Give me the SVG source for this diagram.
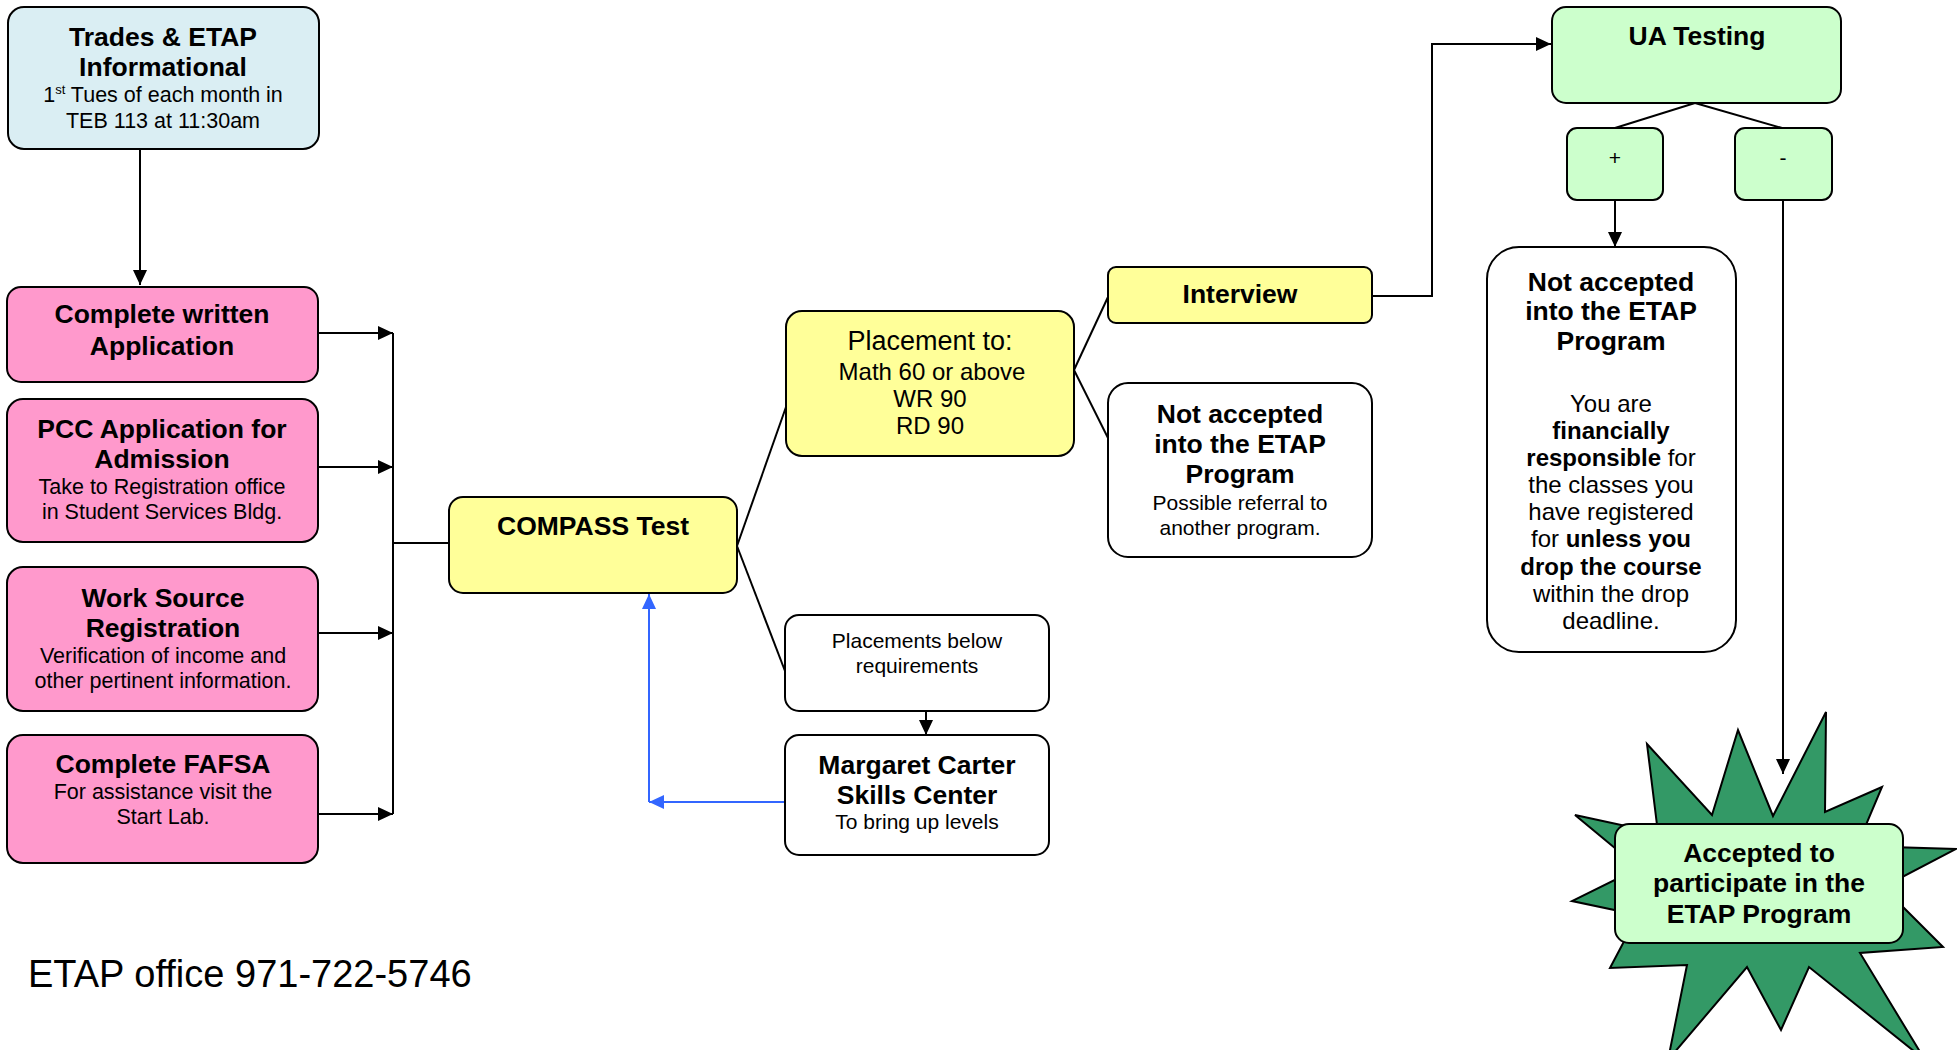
<svg xmlns="http://www.w3.org/2000/svg" width="1957" height="1050" viewBox="0 0 1957 1050">
<defs>
<marker id="arr" markerUnits="userSpaceOnUse" markerWidth="16" markerHeight="14" refX="15" refY="7" orient="auto"><path d="M0,0 L15,7 L0,14 z" fill="#000"/></marker>
<marker id="arrb" markerUnits="userSpaceOnUse" markerWidth="16" markerHeight="14" refX="15" refY="7" orient="auto"><path d="M0,0 L15,7 L0,14 z" fill="#3366FF"/></marker>
<style>
text{font-family:"Liberation Sans",Arial,sans-serif;fill:#000;text-anchor:middle}
.box{stroke:#000;stroke-width:2}
.blue{fill:#DAEEF3}.pink{fill:#FF99CC}.yel{fill:#FFFF99}.grn{fill:#CCFFCC}.wht{fill:#FFFFFF}
.h{font-weight:bold;font-size:26.5px}
.s{font-size:21.5px}
.m{font-size:21px}
.c{stroke:#000;stroke-width:2;fill:none}
.cb{stroke:#3366FF;stroke-width:2;fill:none}
</style>
</defs>
<rect width="1957" height="1050" fill="#fff"/>

<g id="connectors">
<line class="c" x1="140" y1="149" x2="140" y2="285" marker-end="url(#arr)"/>
<line class="c" x1="318" y1="333" x2="393" y2="333" marker-end="url(#arr)"/>
<line class="c" x1="318" y1="467" x2="393" y2="467" marker-end="url(#arr)"/>
<line class="c" x1="318" y1="633" x2="393" y2="633" marker-end="url(#arr)"/>
<line class="c" x1="316" y1="814" x2="393" y2="814" marker-end="url(#arr)"/>
<line class="c" x1="393" y1="333" x2="393" y2="814"/>
<line class="c" x1="393" y1="543" x2="449" y2="543"/>
<line class="c" x1="737" y1="546" x2="786" y2="407"/>
<line class="c" x1="737" y1="546" x2="785" y2="671"/>
<line class="c" x1="926" y1="711" x2="926" y2="735" marker-end="url(#arr)"/>
<line class="cb" x1="785" y1="802" x2="649" y2="802" marker-end="url(#arrb)"/>
<line class="cb" x1="649" y1="802" x2="649" y2="594" marker-end="url(#arrb)"/>
<line class="c" x1="1074" y1="370" x2="1108" y2="297"/>
<line class="c" x1="1074" y1="370" x2="1108" y2="438"/>
<polyline class="c" points="1372,296 1432,296 1432,44 1551,44" marker-end="url(#arr)"/>
<line class="c" x1="1695" y1="103" x2="1615" y2="128"/>
<line class="c" x1="1695" y1="103" x2="1782" y2="128"/>
<line class="c" x1="1615" y1="200" x2="1615" y2="247" marker-end="url(#arr)"/>
<line class="c" x1="1783" y1="200" x2="1783" y2="774" marker-end="url(#arr)"/>
</g>

<g id="trades">
<rect class="box blue" x="8" y="7" width="311" height="142" rx="16"/>
<text x="163" y="46" class="h">Trades &amp; ETAP</text>
<text x="163" y="76" class="h">Informational</text>
<text x="163" y="102" font-size="21.5">1<tspan font-size="13" dy="-8">st</tspan><tspan dy="8"> Tues of each month in</tspan></text>
<text x="163" y="128" font-size="21.5">TEB 113 at 11:30am</text>
</g>

<g id="written">
<rect class="box pink" x="7" y="287" width="311" height="95" rx="14"/>
<text x="162" y="323" class="h">Complete written</text>
<text x="162" y="355" class="h">Application</text>
</g>

<g id="pcc">
<rect class="box pink" x="7" y="399" width="311" height="143" rx="16"/>
<text x="162" y="438" class="h">PCC Application for</text>
<text x="162" y="468" class="h">Admission</text>
<text x="162" y="494" class="s">Take to Registration office</text>
<text x="162" y="519" class="s">in Student Services Bldg.</text>
</g>

<g id="worksource">
<rect class="box pink" x="7" y="567" width="311" height="144" rx="16"/>
<text x="163" y="607" class="h">Work Source</text>
<text x="163" y="637" class="h">Registration</text>
<text x="163" y="663" class="s">Verification of income and</text>
<text x="163" y="688" class="s">other pertinent information.</text>
</g>

<g id="fafsa">
<rect class="box pink" x="7" y="735" width="311" height="128" rx="16"/>
<text x="163" y="773" class="h">Complete FAFSA</text>
<text x="163" y="799" class="s">For assistance visit the</text>
<text x="163" y="824" class="s">Start Lab.</text>
</g>

<g id="compass">
<rect class="box yel" x="449" y="497" width="288" height="96" rx="14"/>
<text x="593" y="535" class="h">COMPASS Test</text>
</g>

<g id="placement">
<rect class="box yel" x="786" y="311" width="288" height="145" rx="16"/>
<text x="930" y="350" font-size="27">Placement to:</text>
<text x="932" y="380" font-size="24">Math 60 or above</text>
<text x="930" y="407" font-size="24">WR 90</text>
<text x="930" y="434" font-size="24">RD 90</text>
</g>

<g id="below">
<rect class="box wht" x="785" y="615" width="264" height="96" rx="14"/>
<text x="917" y="648" class="m">Placements below</text>
<text x="917" y="673" class="m">requirements</text>
</g>

<g id="margaret">
<rect class="box wht" x="785" y="735" width="264" height="120" rx="14"/>
<text x="917" y="774" class="h">Margaret Carter</text>
<text x="917" y="804" class="h">Skills Center</text>
<text x="917" y="829" class="m">To bring up levels</text>
</g>

<g id="interview">
<rect class="box yel" x="1108" y="267" width="264" height="56" rx="8"/>
<text x="1240" y="303" class="h">Interview</text>
</g>

<g id="notaccepted1">
<rect class="box wht" x="1108" y="383" width="264" height="174" rx="20"/>
<text x="1240" y="423" class="h">Not accepted</text>
<text x="1240" y="453" class="h">into the ETAP</text>
<text x="1240" y="483" class="h">Program</text>
<text x="1240" y="510" class="m">Possible referral to</text>
<text x="1240" y="535" class="m">another program.</text>
</g>

<g id="uatesting">
<rect class="box grn" x="1552" y="7" width="289" height="96" rx="14"/>
<text x="1697" y="45" class="h">UA Testing</text>
</g>

<g id="plus">
<rect class="box grn" x="1567" y="128" width="96" height="72" rx="10"/>
<text x="1615" y="165" class="m">+</text>
</g>

<g id="minus">
<rect class="box grn" x="1735" y="128" width="97" height="72" rx="10"/>
<text x="1783" y="165" class="m">-</text>
</g>

<g id="notaccepted2">
<rect class="box wht" x="1487" y="247" width="249" height="405" rx="32"/>
<text x="1611" y="291" class="h">Not accepted</text>
<text x="1611" y="320" class="h">into the ETAP</text>
<text x="1611" y="350" class="h">Program</text>
<text x="1611" y="412" font-size="24">You are</text>
<text x="1611" y="439" font-size="24" font-weight="bold">financially</text>
<text x="1611" y="466" font-size="24"><tspan font-weight="bold">responsible</tspan> for</text>
<text x="1611" y="493" font-size="24">the classes you</text>
<text x="1611" y="520" font-size="24">have registered</text>
<text x="1611" y="547" font-size="24">for <tspan font-weight="bold">unless you</tspan></text>
<text x="1611" y="575" font-size="24" font-weight="bold">drop the course</text>
<text x="1611" y="602" font-size="24">within the drop</text>
<text x="1611" y="629" font-size="24">deadline.</text>
</g>

<g id="accepted">
<polygon points="1647,744 1712,815 1738,730 1773,816 1826,712 1825,812 1882,787 1857,846 1956,849 1883,887 1943,947 1860,953 1925,1060 1809,967 1781,1030 1747,967 1668,1060 1687,965 1610,968 1638,915 1572,901 1639,868 1575,815 1658,833" fill="#339966" stroke="#000" stroke-width="2" stroke-linejoin="miter"/>
<rect class="box grn" x="1615" y="824" width="288" height="119" rx="14"/>
<text x="1759" y="862" class="h">Accepted to</text>
<text x="1759" y="892" class="h">participate in the</text>
<text x="1759" y="923" class="h">ETAP Program</text>
</g>

<g id="office">
<text x="28" y="987" font-size="38" style="text-anchor:start">ETAP office 971-722-5746</text>
</g>
</svg>
